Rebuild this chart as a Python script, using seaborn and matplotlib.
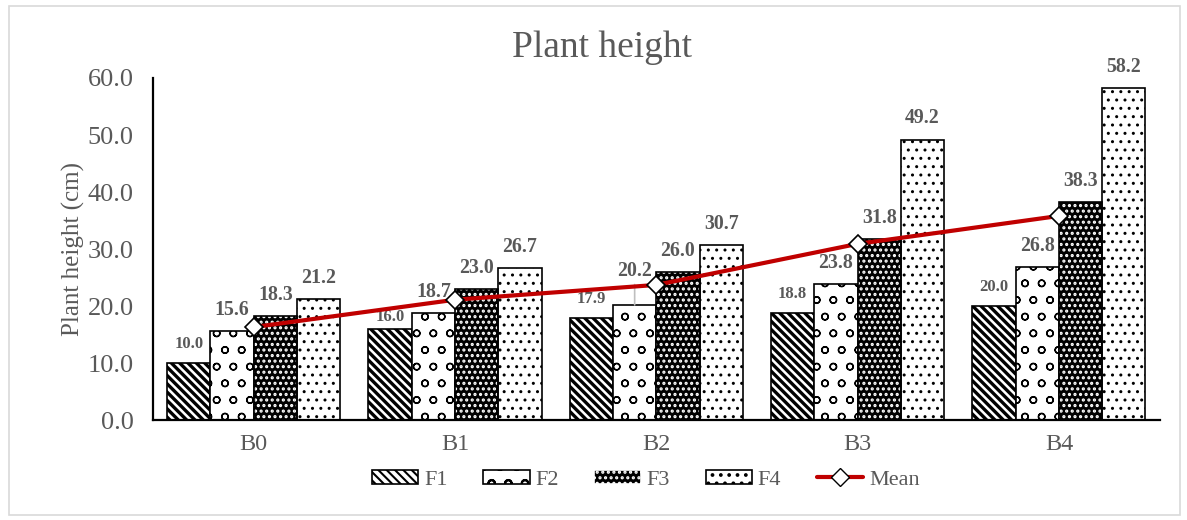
import pandas as pd
import matplotlib.pyplot as plt
import matplotlib.patches as mpatches
import seaborn as sns

# Data
categories = ['B0', 'B1', 'B2', 'B3', 'B4']
groups = ['F1', 'F2', 'F3', 'F4']
f1 = [10.0, 16.0, 17.9, 18.8, 20.0]
f2 = [15.6, 18.7, 20.2, 23.8, 26.8]
f3 = [18.3, 23.0, 26.0, 31.8, 38.3]
f4 = [21.2, 26.7, 30.7, 49.2, 58.2]
means = [16.3, 21.1, 23.7, 30.9, 35.8]
yticks = [0, 10, 20, 30, 40, 50, 60]

sns.set_theme(style="white")
plt.rcParams['font.family'] = ['Liberation Serif', 'DejaVu Serif']
plt.rcParams['hatch.linewidth'] = 1.5

GRAY = '#595959'
RED = '#C00000'

df = pd.DataFrame({
    'Treatment': categories * 4,
    'Group': sum([[g] * 5 for g in groups], []),
    'Height': f1 + f2 + f3 + f4,
})

fig = plt.figure(figsize=(11.87, 5.2), dpi=100)
ax = fig.add_axes([0.1289, 0.1923, 0.848, 0.6577])

sns.barplot(data=df, x='Treatment', y='Height', hue='Group', order=categories,
            hue_order=groups, width=0.86, ax=ax, legend=False,
            edgecolor='black', linewidth=1.2, saturation=1)

# patterns for each series (hatch colour follows the edge colour)
styles = {
    'F1': dict(face='white', hatch='\\\\\\\\', edge='black', hlw=2.4),
    'F2': dict(face='white', hatch='o', edge='black', hlw=1.0),
    'F3': dict(face='black', hatch='...', edge='white', hlw=1.5),
    'F4': dict(face='white', hatch='..', edge='black', hlw=1.0),
}


def style_patch(p, st):
    p.set_facecolor(st['face'])
    p.set_edgecolor(st['edge'])
    p.set_hatch(st['hatch'])
    if hasattr(p, 'set_hatch_linewidth'):
        p.set_hatch_linewidth(st['hlw'])


for cont, g in zip(ax.containers, groups):
    st = styles[g]
    for p in cont:
        style_patch(p, st)
        p.set_zorder(2)
        if st['edge'] != 'black':
            # white hatch needs a separate black outline
            p.set_linewidth(0)
            ax.add_patch(mpatches.Rectangle((p.get_x(), p.get_y()), p.get_width(),
                                            p.get_height(), fill=False,
                                            edgecolor='black', lw=1.2, zorder=3))

# data labels
containers = list(ax.containers)
for cont, g in zip(containers, groups):
    size = 12 if g == 'F1' else 14.3
    labels = ax.bar_label(cont, fmt='%.1f', padding=8, fontsize=size,
                          fontweight='bold', color=GRAY)
    if g == 'F1':
        # B1 label sits a bit lower, under the mean line
        labels[1].xyann = (0, 3)
    if g == 'F2':
        # B2 label is lifted with a leader line
        labels[2].remove()
        p = cont[2]
        ax.annotate(f'{f2[2]:.1f}', xy=(p.get_x() + p.get_width() / 2, p.get_height()),
                    xytext=(0, 17), textcoords='offset points', ha='center',
                    va='bottom', fontsize=size, fontweight='bold', color=GRAY,
                    arrowprops=dict(arrowstyle='-', color='#BFBFBF', lw=1.2,
                                    shrinkA=0, shrinkB=0))

# mean line
sns.pointplot(x=categories, y=means, order=categories, color=RED,
              markers='D', linestyles='-', ax=ax, errorbar=None)
mline = ax.lines[-1]
mline.set_linewidth(3)
mline.set_markerfacecolor('white')
mline.set_markeredgecolor('black')
mline.set_markeredgewidth(1.2)
mline.set_markersize(9.5)
mline.set_zorder(4)

ax.set_xlim(-0.5, 4.5)
ax.set_ylim(0, 60)
ax.set_yticks(yticks)
ax.set_yticklabels([f'{v:.1f}' for v in yticks])
ax.tick_params(axis='both', length=0, colors=GRAY)
ax.tick_params(axis='x', pad=10, labelsize=17.5)
ax.tick_params(axis='y', pad=14, labelsize=19)
ax.set_xlabel('')
ax.set_ylabel('Plant height (cm)', fontsize=18, color=GRAY, labelpad=2)

for side in ['top', 'right']:
    ax.spines[side].set_visible(False)
for side in ['left', 'bottom']:
    ax.spines[side].set_color('black')
    ax.spines[side].set_linewidth(1.6)

fig.text(0.507, 0.908, 'Plant height', ha='center', va='center',
         fontsize=27, color=GRAY)

# legend
handles = []
for g in groups:
    h = mpatches.Patch(linewidth=1.2, label=g)
    style_patch(h, styles[g])
    handles.append(h)
handles.append(plt.Line2D([], [], color=RED, lw=3, marker='D', markersize=9,
                          markerfacecolor='white', markeredgecolor='black',
                          label='Mean'))
fig.legend(handles=handles, loc='center', bbox_to_anchor=(0.544, 0.077), ncol=5,
           frameon=False, fontsize=16, handlelength=2.1, handleheight=0.6,
           columnspacing=1.6, handletextpad=0.25, labelcolor=GRAY)

# light outer border like the chart area
fig.patches.append(mpatches.Rectangle((0.008, 0.01), 0.986, 0.978,
                                      transform=fig.transFigure, fill=False,
                                      edgecolor='#D9D9D9', linewidth=1.2))

fig.savefig('out.png', dpi=100)
